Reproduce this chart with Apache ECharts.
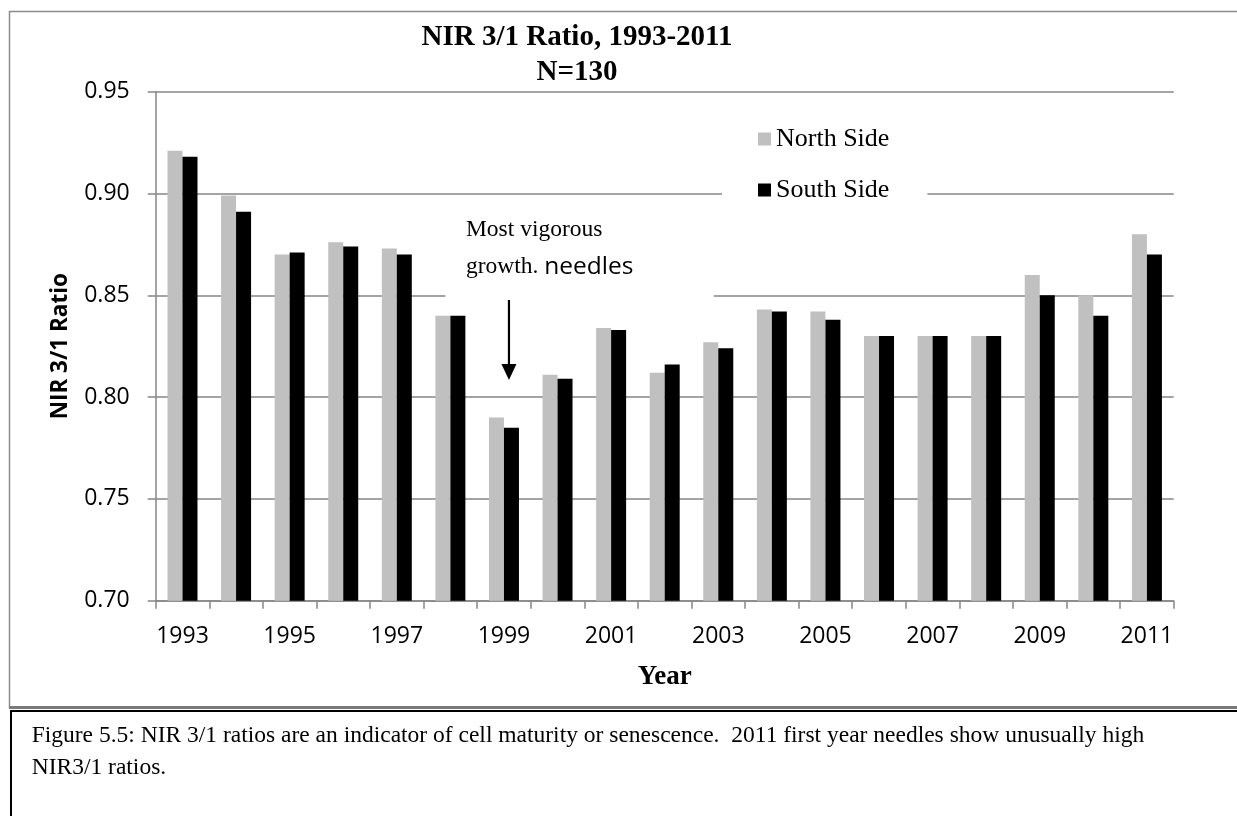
<!DOCTYPE html>
<html>
<head>
<meta charset="utf-8">
<script src="https://cdn.jsdelivr.net/npm/echarts@6/dist/echarts.min.js"></script>
<style>
  html, body { margin: 0; padding: 0; background: #fff; }
  #chart { width: 1237px; height: 816px; }
</style>
</head>
<body>
<div id="chart"></div>
<script>
// Sampling years on the category axis
const years = ['1993', '1994', '1995', '1996', '1997', '1998', '1999', '2000', '2001', '2002',
               '2003', '2004', '2005', '2006', '2007', '2008', '2009', '2010', '2011'];

// Mean NIR 3/1 ratio per year, north and south side of the crown
const northSide = [0.921, 0.899, 0.870, 0.876, 0.873, 0.840, 0.790, 0.811, 0.834, 0.812,
                   0.827, 0.843, 0.842, 0.830, 0.830, 0.830, 0.860, 0.850, 0.880];
const southSide = [0.918, 0.891, 0.871, 0.874, 0.870, 0.840, 0.785, 0.809, 0.833, 0.816,
                   0.824, 0.842, 0.838, 0.830, 0.830, 0.830, 0.850, 0.840, 0.870];

// Value axis range and step
const yMin = 0.70;
const yMax = 0.95;
const yStep = 0.05;

const seriesNames = ['North Side', 'South Side'];
const titleLines = ['NIR 3/1 Ratio, 1993-2011', 'N=130'];
const captionLines = [
  'Figure 5.5: NIR 3/1 ratios are an indicator of cell maturity or senescence.  2011 first year needles show unusually high',
  'NIR3/1 ratios.'
];

const SERIF = '"Liberation Serif", "Times New Roman", serif';
const SANS = '"Open Sans", "Liberation Sans", sans-serif';
const AXIS_GREY = '#868686';

const chart = echarts.init(document.getElementById('chart'), null, { renderer: 'canvas' });

chart.setOption({
  animation: false,
  backgroundColor: '#fff',
  title: {
    text: titleLines.join('\n'),
    left: 572,
    top: 15,
    textAlign: 'center',
    textStyle: { fontFamily: SERIF, fontWeight: 'bold', fontSize: 29, lineHeight: 35, color: '#000' }
  },
  legend: {
    data: seriesNames,
    orient: 'vertical',
    left: 722,
    top: 108,
    padding: [18, 38, 18, 36],
    backgroundColor: '#fff',
    icon: 'rect',
    itemWidth: 13,
    itemHeight: 13,
    itemGap: 25,
    textStyle: { fontFamily: SERIF, fontSize: 26, lineHeight: 26, color: '#000' },
    z: 6
  },
  grid: {
    left: 155.7,
    right: 63.3,
    top: 91.7,
    bottom: 215.3,
    outerBoundsMode: 'none'
  },
  xAxis: {
    type: 'category',
    data: years,
    axisLine: { lineStyle: { color: AXIS_GREY, width: 1.5 } },
    axisTick: { show: true, interval: 0, length: 8, lineStyle: { color: AXIS_GREY, width: 1.5 } },
    axisLabel: { interval: 1, margin: 24, fontFamily: SANS, fontSize: 23, color: '#000' },
    name: 'Year',
    nameLocation: 'middle',
    nameGap: 63,
    nameTextStyle: { fontFamily: SERIF, fontWeight: 'bold', fontSize: 27, color: '#000' }
  },
  yAxis: {
    type: 'value',
    min: yMin,
    max: yMax,
    interval: yStep,
    axisLine: { show: true, lineStyle: { color: AXIS_GREY, width: 1.5 } },
    axisTick: { show: true, length: 8, lineStyle: { color: AXIS_GREY, width: 1.5 } },
    axisLabel: {
      margin: 26,
      fontFamily: SANS,
      fontSize: 23,
      color: '#000',
      formatter: v => v.toFixed(2)
    },
    splitLine: { lineStyle: { color: AXIS_GREY, width: 1.5 } },
    name: 'NIR 3/1 Ratio',
    nameLocation: 'middle',
    nameRotate: 90,
    nameGap: 84,
    nameTextStyle: { fontFamily: SANS, fontWeight: 'bold', fontSize: 22.5, color: '#000' }
  },
  series: [
    {
      name: seriesNames[0],
      type: 'bar',
      data: northSide,
      barWidth: 15,
      barGap: '0%',
      itemStyle: { color: '#C0C0C0' }
    },
    {
      name: seriesNames[1],
      type: 'bar',
      data: southSide,
      barWidth: 15,
      barGap: '0%',
      itemStyle: { color: '#000000' }
    }
  ]
});

// Arrow and note pointing at the 1999 minimum, anchored through the axes
const arrowX = chart.convertToPixel({ xAxisIndex: 0 }, '1999') + 5;
const arrowTop = chart.convertToPixel({ yAxisIndex: 0 }, 0.8477);
const arrowTip = chart.convertToPixel({ yAxisIndex: 0 }, 0.8084);

chart.setOption({
  graphic: [
    // chart frame
    {
      type: 'rect',
      shape: { x: 9.5, y: 11.5, width: 1240, height: 696 },
      style: { fill: 'none', stroke: '#8c8c8c', lineWidth: 1.5 },
      z: 1
    },
    {
      type: 'line',
      shape: { x1: 9, y1: 707.5, x2: 1240, y2: 707.5 },
      style: { stroke: '#7a7a7a', lineWidth: 3 },
      z: 1
    },
    // caption box
    {
      type: 'rect',
      shape: { x: 11, y: 711, width: 1240, height: 120 },
      style: { fill: '#fff', stroke: '#000', lineWidth: 2 },
      z: 1
    },
    {
      type: 'text',
      x: 31.7,
      y: 719.5,
      style: {
        text: captionLines.join('\n'),
        fontFamily: SERIF,
        fontSize: 23.5,
        lineHeight: 32,
        fill: '#000',
        verticalAlign: 'top'
      },
      z: 2
    },
    // note background
    {
      type: 'rect',
      shape: { x: arrowX - 63.5, y: arrowTop - 95, width: 268.3, height: 94 },
      style: { fill: '#fff' },
      z: 50
    },
    {
      type: 'text',
      x: arrowX - 43,
      y: arrowTop - 70.5,
      style: {
        text: 'Most vigorous',
        fontFamily: SERIF,
        fontSize: 23.5,
        fill: '#000',
        verticalAlign: 'middle'
      },
      z: 51
    },
    {
      type: 'text',
      x: arrowX - 43,
      y: arrowTop - 33,
      style: {
        text: '{t|growth. }{s|needles}',
        verticalAlign: 'middle',
        rich: {
          t: { fontFamily: SERIF, fontSize: 23.5, fill: '#000' },
          s: { fontFamily: SANS, fontSize: 24.5, fill: '#000' }
        }
      },
      z: 51
    },
    // arrow
    {
      type: 'line',
      shape: { x1: arrowX, y1: arrowTop, x2: arrowX, y2: arrowTip - 14 },
      style: { stroke: '#000', lineWidth: 2.2 },
      z: 51
    },
    {
      type: 'polygon',
      shape: { points: [[arrowX - 7.5, arrowTip - 16], [arrowX + 7.5, arrowTip - 16], [arrowX, arrowTip]] },
      style: { fill: '#000' },
      z: 51
    }
  ]
});
</script>
</body>
</html>
